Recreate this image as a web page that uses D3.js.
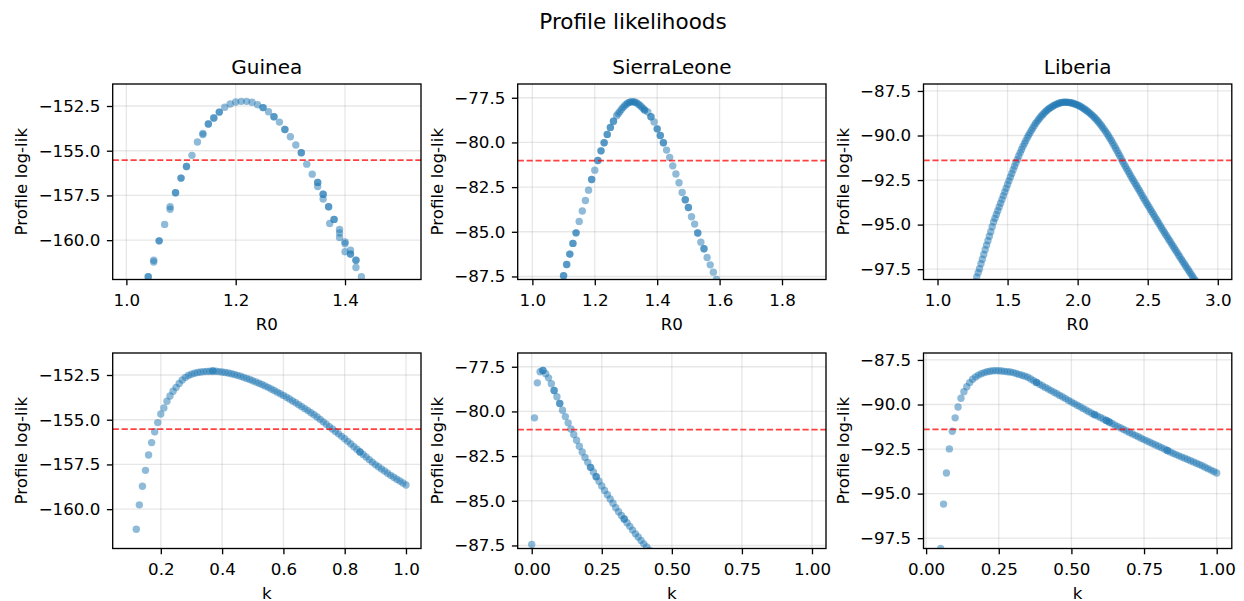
<!DOCTYPE html>
<html>
<head>
<meta charset="utf-8">
<script src="https://cdn.jsdelivr.net/npm/d3@7"></script>
<style>
  body { margin: 0; background: #fff; }
  svg { font-family: "DejaVu Sans", sans-serif; }
</style>
</head>
<body>
<div id="chart"></div>
<script>
// ---- data ----
var countries = ['Guinea', 'SierraLeone', 'Liberia'];
var cutoffs = [-155.53, -81.02, -91.40];

var guineaR0 = [1.04,1.04,1.05,1.05,1.06,1.06,1.07,1.08,1.08,1.09,1.09,1.10,1.10,1.11,1.11,1.12,1.13,1.14,1.14,1.15,1.15,
  1.16,1.16,1.17,1.17,1.18,1.19,1.20,1.21,1.22,1.23,1.24,1.25,1.25,1.26,1.27,1.27,1.28,1.29,1.29,1.30,1.31,1.32,1.32,
  1.33,1.34,1.35,1.35,1.35,1.36,1.36,1.36,1.37,1.37,1.372,1.38,1.38,1.39,1.39,1.39,1.40,1.40,1.40,1.41,1.41,1.41,
  1.42,1.42,1.42,1.43];
var guineaR0LL = [-162.05,-162.05,-161.12,-161.22,-160.04,-160.04,-159.12,-158.13,-158.27,-157.35,-157.35,-156.53,-156.53,
  -155.88,-155.88,-155.26,-154.51,-154.03,-154.10,-153.51,-153.51,-153.17,-153.17,-152.84,-152.84,-152.57,-152.39,
  -152.28,-152.24,-152.24,-152.29,-152.43,-152.59,-152.59,-152.82,-153.10,-153.10,-153.40,-153.81,-153.81,-154.22,
  -154.68,-155.11,-155.11,-155.75,-156.31,-156.77,-156.77,-157.00,-157.43,-157.43,-157.70,-158.13,-158.13,-159.07,
  -158.84,-158.84,-159.40,-159.60,-159.85,-160.10,-160.20,-160.65,-160.56,-160.78,-160.78,-161.12,-161.12,-161.53,-162.05];

var sierraR0 = [1.10,1.10,1.11,1.11,1.12,1.12,1.13,1.13,1.14,1.14,1.15,1.16,1.17,1.18,1.19,1.19,1.20,1.21,1.21,1.22,1.22,
  1.23,1.23,1.24,1.24,1.25,1.25,1.26,1.26,1.27,1.275,1.28,1.285,1.29,1.295,1.30,1.305,1.31,1.315,1.32,1.325,1.33,1.335,
  1.34,1.345,1.35,1.355,1.36,1.36,1.37,1.38,1.38,1.39,1.40,1.40,1.41,1.41,1.42,1.42,1.43,1.44,1.45,1.46,1.47,1.48,
  1.49,1.49,1.50,1.50,1.51,1.52,1.53,1.53,1.54,1.55,1.55,1.56,1.57,1.58,1.59];
var sierraR0LL = [-87.46,-87.46,-86.83,-86.83,-86.25,-86.25,-85.65,-85.65,-85.06,-85.06,-84.42,-83.84,-83.25,-82.67,-82.07,
  -82.07,-81.55,-81.01,-81.01,-80.47,-80.47,-80.02,-80.02,-79.55,-79.55,-79.16,-79.16,-78.81,-78.81,-78.51,-78.39,
  -78.28,-78.16,-78.05,-77.96,-77.88,-77.81,-77.76,-77.73,-77.72,-77.73,-77.75,-77.80,-77.86,-77.93,-78.02,-78.10,
  -78.19,-78.19,-78.30,-78.56,-78.56,-78.86,-79.24,-79.24,-79.61,-79.61,-80.02,-80.02,-80.43,-80.84,-81.31,-81.77,
  -82.26,-82.80,-83.21,-83.21,-83.64,-83.64,-84.16,-84.57,-85.07,-85.07,-85.58,-85.95,-85.95,-86.44,-86.85,-87.26,-87.67];

var liberiaR0 = [1.27,1.28,1.29,1.30,1.31,1.32,1.33,1.34,1.35,1.36,
  1.37,1.38,1.39,1.40,1.41,1.42,1.43,1.44,1.45,1.46,
  1.47,1.48,1.49,1.50,1.51,1.52,1.53,1.54,1.55,1.56,
  1.57,1.58,1.59,1.60,1.61,1.62,1.63,1.64,1.65,1.66,
  1.67,1.68,1.69,1.70,1.71,1.72,1.73,1.74,1.75,1.76,
  1.77,1.78,1.79,1.80,1.81,1.82,1.83,1.84,1.85,1.86,
  1.87,1.88,1.89,1.90,1.91,1.92,1.93,1.94,1.95,1.96,
  1.97,1.98,1.99,2.00,2.01,2.02,2.03,2.04,2.05,2.06,
  2.07,2.08,2.09,2.10,2.11,2.12,2.13,2.14,2.15,2.16,
  2.17,2.18,2.19,2.20,2.21,2.22,2.23,2.24,2.25,2.26,
  2.27,2.28,2.29,2.30,2.31,2.32,2.33,2.34,2.35,2.36,
  2.37,2.38,2.39,2.40,2.41,2.42,2.43,2.44,2.45,2.46,
  2.47,2.48,2.49,2.50,2.51,2.52,2.53,2.54,2.55,2.56,
  2.57,2.58,2.59,2.60,2.61,2.62,2.63,2.64,2.65,2.66,
  2.67,2.68,2.69,2.70,2.71,2.72,2.73,2.74,2.75,2.76,
  2.77,2.78,2.79,2.80,2.81,2.82,2.83,2.84];
var liberiaR0LL = [-98.20,-97.93,-97.70,-97.47,-97.20,-96.94,-96.68,-96.41,-96.15,-95.90,
  -95.65,-95.40,-95.12,-94.85,-94.64,-94.43,-94.22,-94.01,-93.80,-93.59,
  -93.38,-93.17,-92.96,-92.75,-92.54,-92.33,-92.13,-91.92,-91.72,-91.53,
  -91.34,-91.15,-90.96,-90.78,-90.61,-90.45,-90.29,-90.13,-89.98,-89.85,
  -89.71,-89.58,-89.45,-89.33,-89.22,-89.12,-89.02,-88.92,-88.83,-88.75,
  -88.67,-88.60,-88.53,-88.47,-88.42,-88.37,-88.32,-88.28,-88.24,-88.21,
  -88.18,-88.16,-88.14,-88.13,-88.13,-88.13,-88.14,-88.15,-88.16,-88.18,
  -88.20,-88.23,-88.26,-88.29,-88.33,-88.37,-88.42,-88.47,-88.52,-88.58,
  -88.64,-88.70,-88.77,-88.84,-88.91,-88.99,-89.07,-89.16,-89.25,-89.35,
  -89.45,-89.56,-89.67,-89.78,-89.90,-90.03,-90.15,-90.28,-90.42,-90.56,
  -90.70,-90.84,-90.99,-91.14,-91.29,-91.44,-91.59,-91.73,-91.87,-92.01,
  -92.15,-92.29,-92.42,-92.55,-92.69,-92.82,-92.96,-93.09,-93.23,-93.36,
  -93.50,-93.63,-93.77,-93.90,-94.03,-94.16,-94.29,-94.42,-94.55,-94.68,
  -94.81,-94.94,-95.07,-95.20,-95.33,-95.45,-95.58,-95.70,-95.83,-95.95,
  -96.08,-96.20,-96.33,-96.45,-96.57,-96.70,-96.82,-96.95,-97.07,-97.19,
  -97.31,-97.43,-97.55,-97.67,-97.79,-97.91,-98.03,-98.15];

var guineaK = [0.12,0.13,0.14,0.15,0.16,0.17,0.18,0.19,0.20,0.21,0.22,0.23,0.24,0.25,0.26,0.27,0.28,0.29,0.30,
  0.31,0.32,0.33,0.34,0.35,0.36,0.37,0.37,0.38,0.39,0.40,0.41,0.42,0.43,0.44,0.45,0.46,0.47,0.48,0.49,0.50,
  0.51,0.52,0.53,0.54,0.55,0.56,0.57,0.58,0.59,0.60,0.61,0.62,0.63,0.64,0.65,0.66,0.67,0.68,0.69,0.70,
  0.71,0.72,0.73,0.74,0.75,0.76,0.77,0.78,0.79,0.80,0.81,0.82,0.83,0.84,0.85,0.85,0.86,0.87,0.88,0.89,0.90,
  0.91,0.92,0.93,0.94,0.95,0.96,0.97,0.98,0.99,1.00];
var guineaKLL = [-161.12,-159.76,-158.72,-157.83,-156.97,-156.28,-155.67,-155.16,-154.68,-154.34,-153.97,-153.67,
  -153.41,-153.19,-152.97,-152.78,-152.63,-152.53,-152.46,-152.40,-152.36,-152.33,-152.31,-152.30,-152.29,-152.28,
  -152.28,-152.29,-152.31,-152.33,-152.36,-152.39,-152.43,-152.47,-152.52,-152.57,-152.63,-152.69,-152.75,-152.82,
  -152.89,-152.96,-153.03,-153.11,-153.19,-153.28,-153.37,-153.46,-153.55,-153.64,-153.74,-153.84,-153.95,-154.05,
  -154.16,-154.27,-154.38,-154.49,-154.61,-154.72,-154.85,-154.98,-155.12,-155.25,-155.39,-155.52,-155.66,-155.79,
  -155.93,-156.06,-156.21,-156.36,-156.51,-156.65,-156.80,-156.80,-156.94,-157.08,-157.23,-157.37,-157.51,-157.63,
  -157.75,-157.87,-157.99,-158.11,-158.22,-158.33,-158.43,-158.54,-158.65];

var sierraK = [0.00,0.01,0.02,0.03,0.04,0.04,0.05,0.06,0.07,0.08,0.08,0.09,0.10,0.10,0.11,0.12,0.13,0.14,0.15,
  0.16,0.17,0.18,0.19,0.20,0.21,0.21,0.22,0.23,0.23,0.24,0.25,0.26,0.27,0.28,0.29,0.30,0.31,0.32,0.33,0.33,
  0.34,0.35,0.36,0.37,0.38,0.39,0.40,0.41,0.42];
var sierraKLL = [-87.44,-80.36,-78.40,-77.78,-77.71,-77.71,-77.89,-78.12,-78.45,-78.83,-78.83,-79.18,-79.56,-79.56,
  -79.93,-80.29,-80.64,-80.98,-81.29,-81.61,-81.95,-82.27,-82.58,-82.85,-83.13,-83.13,-83.39,-83.65,-83.65,-83.91,
  -84.17,-84.42,-84.66,-84.90,-85.14,-85.39,-85.61,-85.82,-86.02,-86.02,-86.23,-86.43,-86.64,-86.85,-87.03,-87.22,
  -87.41,-87.59,-87.76];

var liberiaK = [0.05,0.06,0.07,0.08,0.09,0.10,0.11,0.12,0.13,0.14,0.15,0.16,0.17,0.18,0.19,0.20,0.21,0.22,0.23,
  0.24,0.25,0.26,0.27,0.28,0.29,0.30,0.31,0.32,0.33,0.34,0.35,0.36,0.37,0.38,0.38,0.39,0.40,0.41,0.42,0.43,0.44,
  0.45,0.46,0.47,0.48,0.49,0.50,0.51,0.52,0.53,0.54,0.55,0.56,0.57,0.58,0.58,0.59,0.60,0.61,0.62,0.62,0.63,0.63,
  0.64,0.65,0.66,0.67,0.68,0.69,0.70,0.71,0.72,0.73,0.74,0.75,0.76,0.77,0.78,0.79,0.80,0.81,0.82,0.83,0.83,
  0.84,0.85,0.86,0.87,0.88,0.89,0.90,0.91,0.92,0.93,0.94,0.95,0.96,0.97,0.98,0.99,1.00];
var liberiaKLL = [-98.08,-95.59,-93.84,-92.49,-91.50,-90.75,-90.14,-89.65,-89.28,-89.00,-88.77,-88.58,-88.45,-88.35,
  -88.27,-88.21,-88.16,-88.13,-88.11,-88.10,-88.11,-88.12,-88.14,-88.16,-88.18,-88.21,-88.26,-88.31,-88.36,-88.41,
  -88.47,-88.57,-88.67,-88.76,-88.76,-88.86,-88.95,-89.04,-89.13,-89.22,-89.31,-89.40,-89.49,-89.58,-89.67,-89.77,
  -89.86,-89.95,-90.04,-90.13,-90.22,-90.31,-90.40,-90.49,-90.57,-90.57,-90.65,-90.73,-90.81,-90.90,-90.90,-90.98,
  -90.98,-91.07,-91.16,-91.24,-91.32,-91.40,-91.49,-91.57,-91.65,-91.73,-91.81,-91.89,-91.97,-92.05,-92.12,-92.20,
  -92.27,-92.34,-92.42,-92.50,-92.58,-92.58,-92.66,-92.74,-92.81,-92.88,-92.95,-93.02,-93.09,-93.16,-93.23,-93.30,
  -93.37,-93.44,-93.52,-93.60,-93.68,-93.76,-93.84];

var r0Ticks = [[1.0, 1.2, 1.4], [1.0, 1.2, 1.4, 1.6, 1.8], [1.0, 1.5, 2.0, 2.5, 3.0]];
var kTicks = [[0.2, 0.4, 0.6, 0.8, 1.0], [0, 0.25, 0.5, 0.75, 1.0], [0, 0.25, 0.5, 0.75, 1.0]];
var llTicks = [[-152.5, -155, -157.5, -160], [-77.5, -80, -82.5, -85, -87.5], [-87.5, -90, -92.5, -95, -97.5]];

// ---- layout ----
var colLeft = [112.7, 517.7, 923.5];
var rowTop = [84, 353];
var plotW = 308.3, plotH = 195.5;
var r0Domain = [[0.975, 1.539], [0.953, 1.941], [0.9, 3.1]];
var kDomain = [[0.043, 1.049], [-0.05, 1.05], [-0.009, 1.052]];
var llDomain = [[-162.2, -151.27], [-87.67, -76.73], [-98.08, -87.11]];

var svg = d3.select('#chart').append('svg')
  .attr('width', 1244)
  .attr('height', 601);

svg.append('text')
  .attr('x', 633)
  .attr('y', 28.5)
  .attr('text-anchor', 'middle')
  .style('font-size', '21.5px')
  .text('Profile likelihoods');

function drawPanel(opt) {
  var g = svg.append('g').attr('transform', 'translate(' + opt.left + ',' + opt.top + ')');
  var x = d3.scaleLinear().domain(opt.xDomain).range([0, plotW]);
  var y = d3.scaleLinear().domain(opt.yDomain).range([plotH, 0]);

  // grid
  g.append('g').selectAll('line').data(opt.xTicks).join('line')
    .attr('x1', d => x(d)).attr('x2', d => x(d))
    .attr('y1', 0).attr('y2', plotH)
    .attr('stroke', '#b0b0b0').attr('stroke-opacity', 0.3).attr('stroke-width', 1.33);
  g.append('g').selectAll('line').data(opt.yTicks).join('line')
    .attr('y1', d => y(d)).attr('y2', d => y(d))
    .attr('x1', 0).attr('x2', plotW)
    .attr('stroke', '#b0b0b0').attr('stroke-opacity', 0.3).attr('stroke-width', 1.33);

  svg.append('clipPath').attr('id', opt.id)
    .append('rect').attr('width', plotW).attr('height', plotH);

  var pts = opt.xs.map((v, i) => [v, opt.ys[i]]);
  g.append('g')
    .attr('clip-path', 'url(#' + opt.id + ')')
    .selectAll('circle')
    .data(pts)
    .join('circle')
    .attr('cx', d => x(d[0]))
    .attr('cy', d => y(d[1]))
    .attr('r', 3.7)
    .attr('fill', '#1f77b4')
    .attr('fill-opacity', 0.5);

  g.append('line')
    .attr('x1', 0).attr('x2', plotW)
    .attr('y1', y(opt.cutoff)).attr('y2', y(opt.cutoff))
    .attr('stroke', '#ff0000').attr('stroke-opacity', 0.75)
    .attr('stroke-width', 1.67).attr('stroke-dasharray', '6.2,2.7');

  var xa = g.append('g')
    .attr('transform', 'translate(0,' + plotH + ')')
    .call(d3.axisBottom(x).tickValues(opt.xTicks).tickFormat(d3.format(opt.xFmt))
      .tickSize(5.8).tickPadding(8.5).tickSizeOuter(0));
  var ya = g.append('g')
    .call(d3.axisLeft(y).tickValues(opt.yTicks).tickFormat(d3.format('.1f'))
      .tickSize(5.8).tickPadding(6.5).tickSizeOuter(0));
  [xa, ya].forEach(a => {
    a.select('.domain').remove();
    a.selectAll('line').attr('stroke', '#000').attr('stroke-width', 1.33);
    a.selectAll('text').attr('fill', '#000').style('font-size', '16.7px').style('font-family', '"DejaVu Sans", sans-serif');
  });

  g.append('rect')
    .attr('width', plotW).attr('height', plotH)
    .attr('fill', 'none').attr('stroke', '#000').attr('stroke-width', 1.33);

  var bb = ya.node().getBBox();
  g.append('text')
    .attr('transform', 'translate(' + (bb.x - 11.5) + ',' + (plotH / 2) + ') rotate(-90)')
    .attr('text-anchor', 'middle')
    .style('font-size', '16.7px')
    .text('Profile log-lik');

  g.append('text')
    .attr('x', plotW / 2).attr('y', plotH + 50)
    .attr('text-anchor', 'middle')
    .style('font-size', '16.7px')
    .text(opt.xLabel);

  if (opt.title) {
    g.append('text')
      .attr('x', plotW / 2).attr('y', -10)
      .attr('text-anchor', 'middle')
      .style('font-size', '20px')
      .text(opt.title);
  }
}

var r0Xs = [guineaR0, sierraR0, liberiaR0];
var r0Ys = [guineaR0LL, sierraR0LL, liberiaR0LL];
var kXs = [guineaK, sierraK, liberiaK];
var kYs = [guineaKLL, sierraKLL, liberiaKLL];

countries.forEach(function (c, i) {
  drawPanel({
    id: 'clipR0' + i, left: colLeft[i], top: rowTop[0],
    xs: r0Xs[i], ys: r0Ys[i],
    xDomain: r0Domain[i], yDomain: llDomain[i],
    xTicks: r0Ticks[i], xFmt: '.1f', yTicks: llTicks[i],
    cutoff: cutoffs[i], xLabel: 'R0', title: c
  });
  drawPanel({
    id: 'clipK' + i, left: colLeft[i], top: rowTop[1],
    xs: kXs[i], ys: kYs[i],
    xDomain: kDomain[i], yDomain: llDomain[i],
    xTicks: kTicks[i], xFmt: i === 0 ? '.1f' : '.2f', yTicks: llTicks[i],
    cutoff: cutoffs[i], xLabel: 'k', title: null
  });
});
</script>
</body>
</html>
